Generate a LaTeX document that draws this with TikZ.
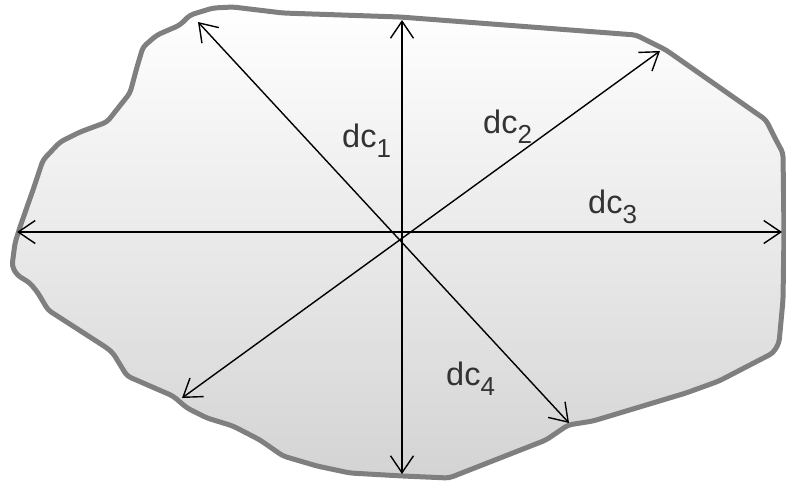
\documentclass[tikz,border=0pt]{standalone}
\usepackage{fontspec}
\setmainfont{Liberation Sans}
\usetikzlibrary{arrows.meta}
\definecolor{txt}{HTML}{333333}
\definecolor{edge}{HTML}{7F7F7F}
\newcommand{\dclabel}[1]{\fontsize{32.5}{32.5}\selectfont dc\raisebox{-10pt}{\fontsize{26}{26}\selectfont #1}}
\tikzset{
  dim/.style={line width=1.4pt, black, {Straight Barb[length=17pt,width=23pt,line width=1.4pt]}-{Straight Barb[length=17pt,width=23pt,line width=1.4pt]}},
  lab/.style={anchor=base west, inner sep=0pt, text=txt}
}
\begin{document}
\begin{tikzpicture}[x=1pt,y=-1pt]
\useasboundingbox (0,0) rectangle (786,483);
\draw[line width=5pt, edge, rounded corners=4pt, shading=axis, top color=white, bottom color=black!17]
 (190,15) -- (213,8) -- (233,7) -- (283,13) -- (400,17) -- (636,35) -- (666,50) -- (766,120) -- (776,140) -- (783,153)
 -- (784,233) -- (783,300) -- (779,343) -- (773,353) -- (719,381) -- (686,393) -- (593,421) -- (568,425) -- (546,440)
 -- (449,478) -- (403,476) -- (350,473) -- (317,466) -- (283,456) -- (260,440) -- (233,426) -- (207,418) -- (187,408)
 -- (173,396) -- (150,386) -- (127,376) -- (113,353) -- (107,348) -- (48,310) -- (38,293) -- (30,283) -- (17,275)
 -- (12,266) -- (15,243) -- (20,227) -- (27,207) -- (33,190) -- (43,160) -- (60,142) -- (80,132) -- (107,122)
 -- (130,93) -- (137,67) -- (143,47) -- (157,35) -- (180,25) -- cycle;
\coordinate (vt) at (402,20);
\coordinate (vb) at (402,474);
\coordinate (hl) at (17,232);
\coordinate (hr) at (782,232);
\coordinate (d1a) at (198,22);
\coordinate (d1b) at (569,423);
\coordinate (d2a) at (660,51);
\coordinate (d2b) at (182,398);
\draw[dim] (vt) -- (vb);
\draw[dim] (hl) -- (hr);
\draw[dim] (d1a) -- (d1b);
\draw[dim] (d2a) -- (d2b);
\node[lab] (l1) at (342,147) {\dclabel{1}};
\node[lab] (l2) at (483,133) {\dclabel{2}};
\node[lab] (l3) at (588,213) {\dclabel{3}};
\node[lab] (l4) at (446,385) {\dclabel{4}};
\end{tikzpicture}
\end{document}
